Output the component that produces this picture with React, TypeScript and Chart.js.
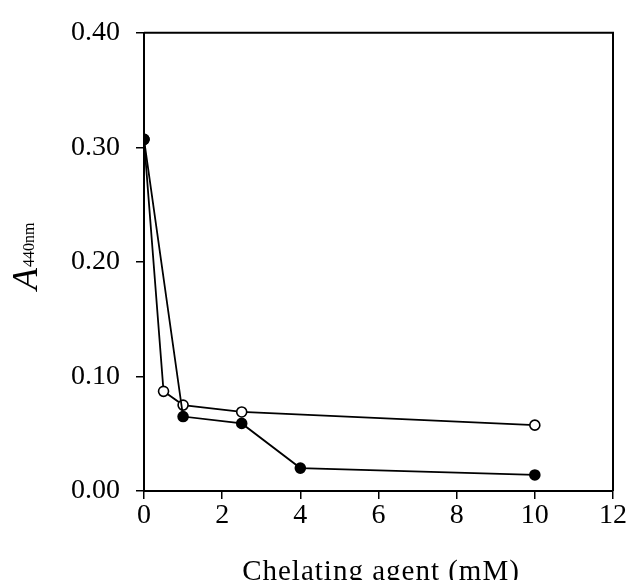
import React, { useEffect, useRef } from "react";
import { Chart, registerables } from "chart.js";

Chart.register(...registerables);

const openX = [0, 0.5, 1, 2.5, 10];
const openY = [0.307, 0.087, 0.075, 0.069, 0.0575];
const filledX = [0, 1, 2.5, 4, 10];
const filledY = [0.307, 0.065, 0.059, 0.02, 0.014];
const yTicks = [0, 0.1, 0.2, 0.3, 0.4];
const xTicks = [0, 2, 4, 6, 8, 10, 12];
const xTitle = "Chelating agent (mM)";
const yTitleMain = "A";
const yTitleSub = "440nm";

const FONT = "'Liberation Serif', 'Times New Roman', serif";

const titlesPlugin = {
  id: "titlesPlugin",
  afterDraw(chart: any) {
    const { ctx, chartArea } = chart;
    ctx.save();
    // frame
    ctx.strokeStyle = "#000";
    ctx.lineWidth = 2;
    ctx.beginPath();
    ctx.moveTo(chartArea.left, chartArea.top);
    ctx.lineTo(chartArea.right, chartArea.top);
    ctx.lineTo(chartArea.right, chartArea.bottom);
    ctx.stroke();
    // x title
    ctx.fillStyle = "#000";
    ctx.font = `29px ${FONT}`;
    (ctx as any).letterSpacing = "1px";
    ctx.textAlign = "center";
    ctx.textBaseline = "alphabetic";
    ctx.fillText(xTitle, 381, 580);
    (ctx as any).letterSpacing = "0px";
    // y title
    ctx.translate(37, 290);
    ctx.rotate(-Math.PI / 2);
    ctx.textAlign = "left";
    ctx.font = `italic 36px ${FONT}`;
    ctx.fillText(yTitleMain, 0, 0);
    const w = ctx.measureText(yTitleMain).width;
    ctx.font = `16px ${FONT}`;
    ctx.fillText(yTitleSub, w + 1, -3);
    ctx.restore();
  },
};

export default function App() {
  const ref = useRef<HTMLCanvasElement>(null);
  useEffect(() => {
    if (!ref.current) return;
    const chart = new Chart(ref.current, {
      type: "scatter",
      data: {
        datasets: [
          {
            label: "filled",
            data: filledX.map((x, i) => ({ x, y: filledY[i] })),
            showLine: true,
            borderColor: "#000",
            backgroundColor: "#000",
            borderWidth: 1.8,
            pointRadius: 4.8,
            pointBorderWidth: 2,
            pointBackgroundColor: "#000",
            pointBorderColor: "#000",
            order: 0,
          },
          {
            label: "open",
            data: openX.map((x, i) => ({ x, y: openY[i] })),
            showLine: true,
            borderColor: "#000",
            backgroundColor: "#fff",
            borderWidth: 1.8,
            pointRadius: 5,
            pointBorderWidth: 1.6,
            pointBackgroundColor: "#fff",
            pointBorderColor: "#000",
            order: 1,
          },
        ],
      },
      options: {
        animation: false,
        responsive: false,
        maintainAspectRatio: false,
        layout: { padding: { top: 25, right: 18, left: 0, bottom: 0 } },
        plugins: { legend: { display: false }, tooltip: { enabled: false } },
        scales: {
          x: {
            type: "linear",
            min: 0,
            max: 12,
            afterBuildTicks: (s: any) => {
              s.ticks = xTicks.map((v) => ({ value: v }));
            },
            afterFit: (s: any) => {
              s.height = 89;
            },
            border: { display: true, color: "#000", width: 2 },
            grid: { drawOnChartArea: false, drawTicks: true, tickLength: 8, color: "#000", lineWidth: 1.5 },
            ticks: {
              color: "#000",
              font: { family: FONT, size: 28 },
              padding: 0,
              maxRotation: 0,
              callback: (v: any) => String(v),
            },
          },
          y: {
            type: "linear",
            min: 0,
            max: 0.4,
            afterBuildTicks: (s: any) => {
              s.ticks = yTicks.map((v) => ({ value: v }));
            },
            afterFit: (s: any) => {
              s.width = 144;
            },
            border: { display: true, color: "#000", width: 2 },
            grid: { drawOnChartArea: false, drawTicks: true, tickLength: 8, color: "#000", lineWidth: 1.5 },
            ticks: {
              color: "#000",
              font: { family: FONT, size: 28 },
              padding: 16,
              callback: (v: any) => Number(v).toFixed(2),
            },
          },
        },
      },
      plugins: [titlesPlugin],
    });
    return () => chart.destroy();
  }, []);
  return (
    <div style={{ position: "absolute", left: 0, top: 0, width: 631, height: 580, background: "#fff" }}>
      <canvas ref={ref} width={631} height={580} style={{ width: 631, height: 580, display: "block" }} />
    </div>
  );
}
